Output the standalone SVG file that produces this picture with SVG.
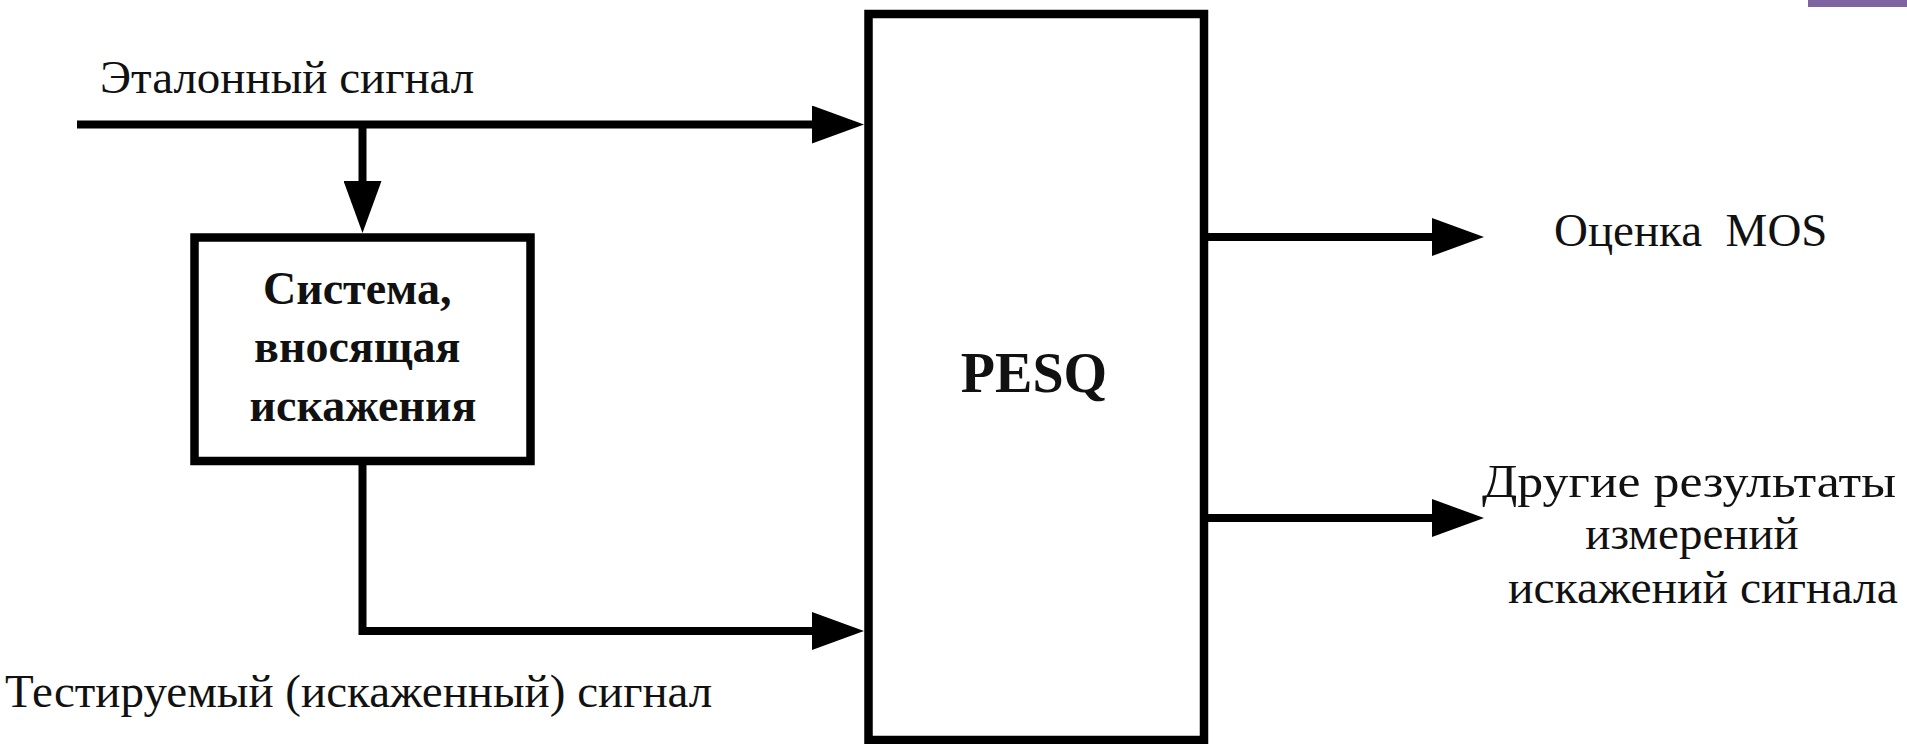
<svg xmlns="http://www.w3.org/2000/svg" width="1907" height="744" viewBox="0 0 1907 744">
  <style>
    .box { fill: #ffffff; stroke: #000000; stroke-width: 8.5; }
    .wire { fill: none; stroke: #000000; stroke-width: 8; stroke-linejoin: miter; marker-end: url(#arrow); }
    .label { font-family: "Liberation Serif", "Times New Roman", serif; font-size: 47px; fill: #111111; }
    .bold { font-family: "Liberation Serif", "Times New Roman", serif; font-weight: bold; fill: #111111; }
  </style>
  <defs>
    <marker id="arrow" markerUnits="userSpaceOnUse" markerWidth="52" markerHeight="38" refX="10" refY="19" orient="auto">
      <path d="M0,0 L52,19 L0,38 Z" fill="#000000"/>
    </marker>
  </defs>

  <rect width="1907" height="744" fill="#ffffff"/>

  <!-- accent strip in the top-right corner -->
  <rect x="1808" y="0" width="99" height="7" fill="#8064a2"/>

  <!-- connectors -->
  <g id="connectors">
    <path class="wire" d="M77,124.5 H822"/>
    <path class="wire" d="M362.5,124.5 V191"/>
    <path class="wire" d="M362.5,461 V631 H822"/>
    <path class="wire" d="M1204,237 H1442"/>
    <path class="wire" d="M1204,518 H1442"/>
  </g>

  <!-- distortion system block -->
  <g id="system">
    <rect class="box" x="194.5" y="237.5" width="336" height="223.5" stroke-width="9"/>
    <text class="bold" font-size="46" text-anchor="middle">
      <tspan x="363" y="304">Система,</tspan>
      <tspan x="363" y="362">вносящая</tspan>
      <tspan x="363" y="421">искажения</tspan>
    </text>
  </g>

  <!-- PESQ block -->
  <g id="pesq">
    <rect class="box" x="868.5" y="14" width="335.5" height="726"/>
    <text class="bold" font-size="56" x="1034" y="392" text-anchor="middle">PESQ</text>
  </g>

  <!-- signal labels -->
  <g id="reference-label">
    <text class="label" x="100" y="93">Эталонный сигнал</text>
  </g>
  <g id="test-label">
    <text class="label" x="5" y="707">Тестируемый (искаженный) сигнал</text>
  </g>
  <g id="mos-output">
    <text class="label" x="1554" y="246" xml:space="preserve">Оценка  MOS</text>
  </g>
  <g id="other-output">
    <text class="label" x="1482" y="497" textLength="414" lengthAdjust="spacingAndGlyphs">Другие результаты</text>
    <text class="label" x="1692" y="549" text-anchor="middle">измерений</text>
    <text class="label" x="1508" y="603" textLength="390" lengthAdjust="spacingAndGlyphs">искажений сигнала</text>
  </g>
</svg>
